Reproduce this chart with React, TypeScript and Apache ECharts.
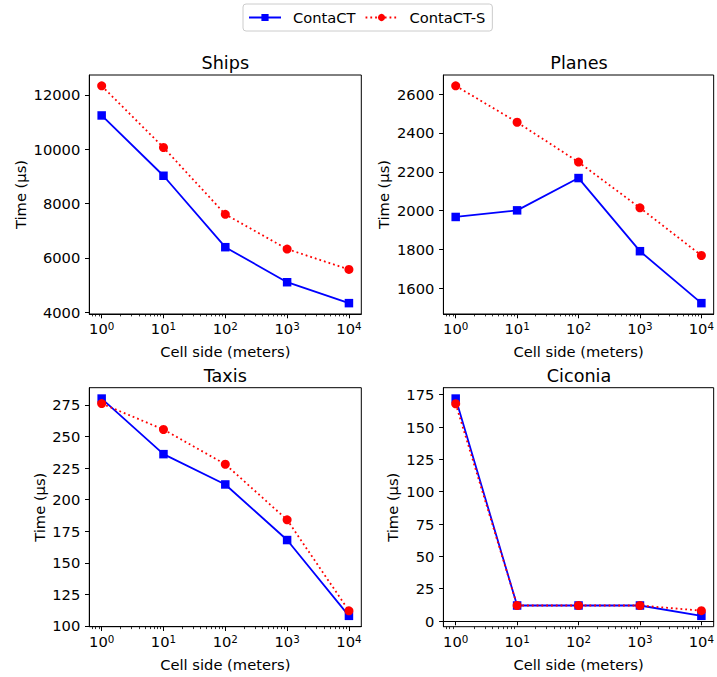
import React, { useEffect, useRef } from "react";
import * as echarts from "echarts";

// x values (cell side, meters) and tick labels (as exponents of 10)
const cellSides = [1, 10, 100, 1000, 10000];
const xTicks = [1, 10, 100, 1000, 10000];
const xTickExponents = ["0", "1", "2", "3", "4"];

// times in microseconds
const shipsContaCT = [11240, 9020, 6390, 5100, 4330];
const shipsContaCTS = [12330, 10060, 7600, 6320, 5570];
const planesContaCT = [1968, 2002, 2168, 1792, 1525];
const planesContaCTS = [2642, 2455, 2250, 2015, 1770];
const taxisContaCT = [280, 236, 212, 168, 108];
const taxisContaCTS = [276, 255.5, 228, 184, 112];
const ciconiaContaCT = [172, 12, 12, 12, 4];
const ciconiaContaCTS = [168, 12, 12, 12, 8];

const shipsTicks = [4000, 6000, 8000, 10000, 12000];
const planesTicks = [1600, 1800, 2000, 2200, 2400, 2600];
const taxisTicks = [100, 125, 150, 175, 200, 225, 250, 275];
const ciconiaTicks = [0, 25, 50, 75, 100, 125, 150, 175];

const panelTitles = ["Ships", "Planes", "Taxis", "Ciconia"];

const FONT = "DejaVu Sans";
const FS = 14.7;

// minor ticks at 2..9 of each decade (inside the visible range)
const xMin = Math.pow(10, -0.2);
const xMax = Math.pow(10, 4.2);
const minorTicks: number[] = [];
for (let d = -1; d <= 4; d++) {
  for (let k = 2; k <= 9; k++) {
    const v = k * Math.pow(10, d);
    if (v > xMin && v < xMax) minorTicks.push(v);
  }
}

// matplotlib-like 5% margins
const yRange = (a: number[], b: number[]) => {
  const all = a.concat(b);
  const lo = Math.min(...all);
  const hi = Math.max(...all);
  const m = (hi - lo) * 0.05;
  return [lo - m, hi + m];
};

const panels = [
  { a: shipsContaCT, b: shipsContaCTS, ticks: shipsTicks, left: 89.3, top: 75, width: 272, nameGap: 61 },
  { a: planesContaCT, b: planesContaCTS, ticks: planesTicks, left: 443.4, top: 75, width: 271.2, nameGap: 52 },
  { a: taxisContaCT, b: taxisContaCTS, ticks: taxisTicks, left: 89.3, top: 387.7, width: 272, nameGap: 42 },
  { a: ciconiaContaCT, b: ciconiaContaCTS, ticks: ciconiaTicks, left: 443.4, top: 387.7, width: 271.2, nameGap: 43 },
];
const gridHeight = 239;

const App: React.FC = () => {
  const chartRef = useRef<HTMLDivElement>(null);

  useEffect(() => {
    if (!chartRef.current) return;
    const chart = echarts.init(chartRef.current, undefined, { renderer: "svg" });

    const tickStyle = { color: "#000", width: 1 };

    const grid = panels.map((p) => ({
      left: p.left,
      top: p.top,
      width: p.width,
      height: gridHeight,
      show: true,
      borderColor: "#000",
      borderWidth: 1,
      containLabel: false,
    }));

    const title = panels.map((p, i) => ({
      text: panelTitles[i],
      left: p.left + p.width / 2,
      textAlign: "center",
      top: p.top - 21,
      padding: 0,
      textStyle: { fontFamily: FONT, fontSize: 17.6, fontWeight: "normal", color: "#000" },
    }));

    const xAxis: any[] = [];
    panels.forEach((p, i) => {
      xAxis.push({
        type: "log",
        logBase: 10,
        gridIndex: i,
        position: "bottom",
        min: xMin,
        max: xMax,
        name: "Cell side (meters)",
        nameLocation: "middle",
        nameGap: 30,
        nameTextStyle: { fontFamily: FONT, fontSize: FS, color: "#000" },
        axisLine: { show: true, lineStyle: { color: "#000", width: 1 } },
        axisTick: { show: true, length: 4.3, customValues: xTicks, lineStyle: tickStyle },
        axisLabel: {
          customValues: xTicks,
          margin: 7,
          fontFamily: FONT,
          fontSize: FS,
          color: "#000",
          formatter: (v: number) => {
            const k = xTicks.indexOf(v);
            return k < 0 ? "" : "{b|10}{s|" + xTickExponents[k] + "}";
          },
          rich: {
            b: { fontFamily: FONT, fontSize: FS, color: "#000", verticalAlign: "bottom" },
            s: { fontFamily: FONT, fontSize: 10.3, color: "#000", verticalAlign: "bottom", padding: [0, 0, 5, 0] },
          },
        },
        splitLine: { show: false },
      });
      xAxis.push({
        type: "log",
        logBase: 10,
        gridIndex: i,
        position: "bottom",
        offset: 0,
        min: xMin,
        max: xMax,
        axisLine: { show: false },
        axisTick: { show: true, length: 2.4, customValues: minorTicks, lineStyle: { color: "#000", width: 0.8 } },
        axisLabel: { show: false },
        splitLine: { show: false },
      });
    });

    const yAxis = panels.map((p, i) => {
      const [lo, hi] = yRange(p.a, p.b);
      return {
        type: "value",
        gridIndex: i,
        min: lo,
        max: hi,
        name: "Time (μs)",
        nameLocation: "middle",
        nameGap: p.nameGap,
        nameTextStyle: { fontFamily: FONT, fontSize: FS, color: "#000" },
        axisLine: { show: true, lineStyle: { color: "#000", width: 1 } },
        axisTick: { show: true, length: 4.3, customValues: p.ticks, lineStyle: tickStyle },
        axisLabel: {
          customValues: p.ticks,
          margin: 9,
          fontFamily: FONT,
          fontSize: FS,
          color: "#000",
          formatter: (v: number) => String(v),
        },
        splitLine: { show: false },
      };
    });

    const series: any[] = [];
    panels.forEach((p, i) => {
      series.push({
        name: "ContaCT",
        type: "line",
        xAxisIndex: i * 2,
        yAxisIndex: i,
        data: cellSides.map((x, k) => [x, p.a[k]]),
        symbol: "rect",
        symbolSize: 8.5,
        itemStyle: { color: "#0000ff" },
        lineStyle: { color: "#0000ff", width: 1.8 },
        z: 2,
      });
      series.push({
        name: "ContaCT-S",
        type: "line",
        xAxisIndex: i * 2,
        yAxisIndex: i,
        data: cellSides.map((x, k) => [x, p.b[k]]),
        symbol: "circle",
        symbolSize: 9,
        itemStyle: { color: "#ff0000" },
        lineStyle: { color: "#ff0000", width: 1.8, type: [1.8, 3], cap: "butt" },
        z: 3,
      });
    });

    chart.setOption({
      animation: false,
      backgroundColor: "#fff",
      textStyle: { fontFamily: FONT },
      title,
      legend: {
        data: ["ContaCT", "ContaCT-S"],
        left: 243,
        top: 4,
        padding: [6, 7, 6, 5],
        itemWidth: 32,
        itemHeight: 9,
        itemGap: 9,
        borderColor: "#cccccc",
        borderWidth: 1,
        borderRadius: 3,
        textStyle: { fontFamily: FONT, fontSize: FS, color: "#000", padding: [0, 0, 0, 7] },
      },
      grid,
      xAxis,
      yAxis,
      series,
    });

    return () => {
      chart.dispose();
    };
  }, []);

  return (
    <div
      ref={chartRef}
      style={{ position: "fixed", left: 0, top: 0, width: "717px", height: "677px" }}
    />
  );
};

export default App;
